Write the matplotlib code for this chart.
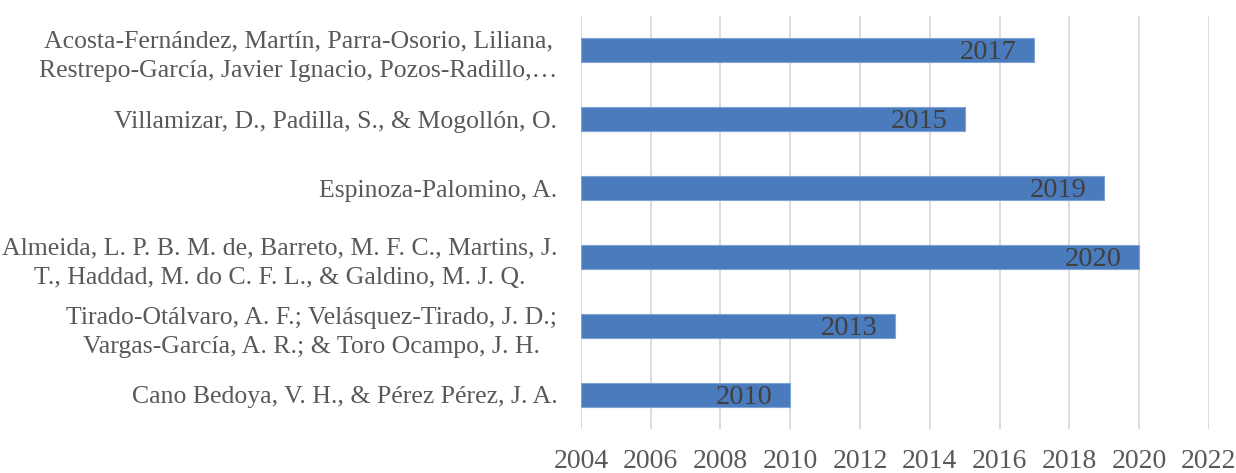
import matplotlib.pyplot as plt

authors = [
    "Acosta-Fernández, Martín, Parra-Osorio, Liliana,\nRestrepo-García, Javier Ignacio, Pozos-Radillo,…",
    "Villamizar, D., Padilla, S., & Mogollón, O.",
    "Espinoza-Palomino, A.",
    "Almeida, L. P. B. M. de, Barreto, M. F. C., Martins, J.\nT., Haddad, M. do C. F. L., & Galdino, M. J. Q.",
    "Tirado-Otálvaro, A. F.; Velásquez-Tirado, J. D.;\nVargas-García, A. R.; & Toro Ocampo, J. H.",
    "Cano Bedoya, V. H., & Pérez Pérez, J. A.",
]
years = [2017, 2015, 2019, 2020, 2013, 2010]
start_year = 2004
xticks = list(range(2004, 2023, 2))

plt.rcParams['font.family'] = ['Liberation Serif', 'DejaVu Serif']

fig = plt.figure(figsize=(12.36, 4.73), dpi=100)
ax = fig.add_axes([0.470, 0.092, 0.508, 0.875])

pos = list(range(len(authors)))
widths = [y - start_year for y in years]
ax.barh(pos, widths, left=start_year, height=0.35, color='#4a7bbd',
        edgecolor='#7fa3d3', linewidth=0.8, zorder=3)

for p, y in zip(pos, years):
    ax.text(y - 0.5, p + 0.04, str(y), ha='right', va='center',
            fontsize=20.5, color='#404040', zorder=4)

ax.set_ylim(len(authors) - 0.5, -0.5)
ax.set_xlim(2004, 2022)
ax.set_xticks(xticks)
ax.set_yticks(pos)
ax.set_yticklabels(authors, multialignment='center', linespacing=1.45)

ax.grid(axis='x', color='#d9d9d9', linewidth=1.3, zorder=0)
for s in ax.spines.values():
    s.set_visible(False)
ax.tick_params(axis='x', length=0, pad=14, labelsize=20, labelcolor='#595959')
ax.tick_params(axis='y', length=0, pad=17, labelsize=18.5, labelcolor='#595959')

fig.savefig('out.png', dpi=100)
